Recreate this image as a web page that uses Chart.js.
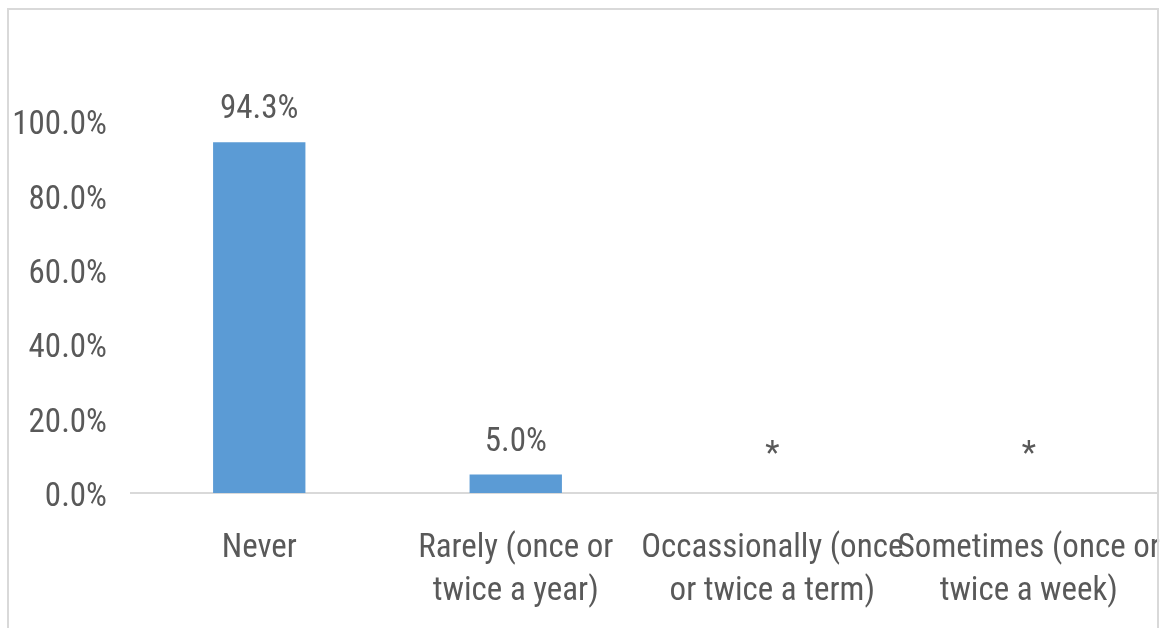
<!DOCTYPE html>
<html>
<head>
<meta charset="utf-8">
<script src="https://cdn.jsdelivr.net/npm/chart.js@4"></script>
<style>
    html, body { margin: 0; padding: 0; background: #fff; overflow: hidden; }
    #frame {
        position: absolute; left: 7px; top: 8px; width: 1152px; height: 700px;
        box-sizing: border-box; border: 2px solid #d9d9d9; pointer-events: none;
    }
    #wrap { position: absolute; left: 0; top: 0; width: 1160px; height: 628px; }
</style>
</head>
<body>
<div id="wrap"><canvas id="chart" width="1160" height="628"></canvas></div>
<div id="frame"></div>
<script>
const categories = [
    ['Never'],
    ['Rarely (once or', 'twice a year)'],
    ['Occassionally (once', 'or twice a term)'],
    ['Sometimes (once or', 'twice a week)']
];
const values = [94.3, 5.0, 0, 0];
const valueLabels = ['94.3%', '5.0%', '*', '*'];
const yTicks = [0, 20, 40, 60, 80, 100];

const textColor = '#595959';
const fontFamily = "'Roboto Condensed', 'Liberation Sans', sans-serif";

// draws the value labels above each bar
const barLabels = {
    id: 'barLabels',
    afterDatasetsDraw(chart) {
        const ctx = chart.ctx;
        const meta = chart.getDatasetMeta(0);
        ctx.save();
        ctx.font = '33px ' + fontFamily;
        ctx.fillStyle = textColor;
        ctx.textAlign = 'center';
        ctx.textBaseline = 'middle';
        meta.data.forEach((bar, i) => {
            const isStar = valueLabels[i] === '*';
            ctx.fillText(valueLabels[i], bar.x, bar.y - (isStar ? 37 : 32));
        });
        ctx.restore();
    }
};

new Chart(document.getElementById('chart'), {
    type: 'bar',
    data: {
        labels: categories,
        datasets: [{
            data: values,
            backgroundColor: '#5b9bd5',
            borderWidth: 0,
            barPercentage: 0.36,
            categoryPercentage: 1
        }]
    },
    options: {
        responsive: false,
        animation: false,
        layout: { padding: { top: 121, right: 3, left: 0, bottom: 0 } },
        plugins: { legend: { display: false }, tooltip: { enabled: false } },
        scales: {
            x: {
                grid: { display: false, drawTicks: false },
                border: { display: true, color: '#d9d9d9', width: 2 },
                ticks: {
                    color: textColor,
                    font: { family: fontFamily, size: 33, lineHeight: 1.3 },
                    padding: 34,
                    maxRotation: 0,
                    autoSkip: false
                },
                afterFit(scale) {
                    scale.height = 135;
                    scale.paddingLeft = 0;
                    scale.paddingRight = 0;
                }
            },
            y: {
                min: 0,
                max: 100,
                afterBuildTicks(scale) { scale.ticks = yTicks.map(v => ({ value: v })); },
                grid: { display: false, drawTicks: false },
                border: { display: false },
                ticks: {
                    color: textColor,
                    font: { family: fontFamily, size: 33 },
                    padding: 24,
                    labelOffset: 5,
                    callback: v => v.toFixed(1) + '%'
                },
                afterFit(scale) {
                    scale.width = 131;
                    scale.paddingTop = 0;
                    scale.paddingBottom = 0;
                }
            }
        }
    },
    plugins: [barLabels]
});
</script>
</body>
</html>
